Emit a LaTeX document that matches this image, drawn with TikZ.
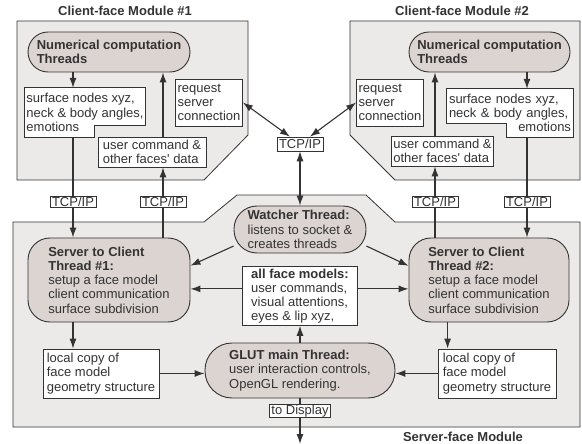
\documentclass[tikz,border=0pt]{standalone}
\usepackage{fontspec}
\setmainfont{Liberation Sans}
\usetikzlibrary{arrows.meta,backgrounds}
\definecolor{modfill}{HTML}{ECEAE9}
\definecolor{thrfill}{HTML}{DCD4D1}
\definecolor{ink}{HTML}{333333}
\tikzset{
  thread/.style={rectangle, rounded corners=20pt, fill=thrfill, draw=ink, line width=0.9pt, align=left, inner sep=2pt},
  databox/.style={rectangle, fill=white, draw=ink, line width=0.8pt, align=left, inner sep=2pt},
  tcp/.style={rectangle, fill=white, draw=ink, line width=0.6pt, inner xsep=2pt, inner ysep=0.5pt},
  module/.style={fill=modfill, draw=ink, line width=0.8pt},
  title/.style={font=\fontsize{13}{14}\selectfont\bfseries},
  wire/.style={line width=1.1pt, draw=ink},
  link/.style={wire, -{Latex[length=10pt,width=7pt]}},
  twolink/.style={wire, {Latex[length=10pt,width=7pt]}-{Latex[length=10pt,width=7pt]}}
}
\begin{document}
\begin{tikzpicture}[x=1pt, y=-1pt, font=\fontsize{13}{14.2}\selectfont, text=ink]
	\useasboundingbox (0,0) rectangle (582,444);
	\begin{scope}[on background layer]
		\draw[module] (17,21) -- (248,21) -- (248,135) -- (204,180) -- (17,180) -- cycle;
		\draw[module] (350,21) -- (580,21) -- (580,180) -- (395,180) -- (350,135) -- cycle;
		\draw[module] (13,222) -- (204,222) -- (237,195) -- (366,195) -- (395,222) -- (580,222) -- (580,427) -- (13,427) -- cycle;
	\end{scope}
	\node[title](mod1) at (125,11){Client-face Module \#1};
	\node[title](mod2) at (462,11){Client-face Module \#2};
	\node[title](mod3) at (463,437){Server-face Module};
	\node[thread, minimum width=162pt, minimum height=40pt](nc1) at (109,52){\textbf{Numerical computation}\\\textbf{Threads}};
	\node[thread, minimum width=161pt, minimum height=40pt](nc2) at (489.5,52){\textbf{Numerical computation}\\\textbf{Threads}};
	\node[align=left, inner sep=2pt, minimum width=118pt, minimum height=49pt](surf1) at (85,112.5){surface nodes xyz,\\neck \& body angles,\\emotions};
	\node[align=left, inner xsep=2pt, inner ysep=2pt, text width=122pt, minimum height=48pt](surf2) at (510,113){surface nodes xyz,\\neck \& body angles,\\\hspace*{\fill}emotions};
	\node[databox, minimum width=66pt, minimum height=47pt](req1) at (209,102.5){request\\server\\connection};
	\node[databox, minimum width=66pt, minimum height=47pt](req2) at (390,102.5){request\\server\\connection};
	\node[databox, minimum width=108pt, minimum height=30pt](cmd1) at (152,152){user command \&\\other faces\textquotesingle{} data};
	\node[databox, minimum width=99pt, minimum height=30pt](cmd2) at (442.5,151){user command \&\\other faces\textquotesingle{} data};
	\node[tcp, minimum height=14pt](tcp0) at (300,144){TCP/IP};
	\node[tcp](tcp1) at (73,202){TCP/IP};
	\node[tcp](tcp2) at (163,202){TCP/IP};
	\node[tcp](tcp3) at (435,202){TCP/IP};
	\node[tcp](tcp4) at (527,202){TCP/IP};
	\node[thread, rounded corners=23pt, minimum width=132pt, minimum height=47pt](watch) at (300,229.5){\textbf{Watcher Thread:}\\listens to socket \&\\creates threads};
	\node[databox, minimum width=115pt, minimum height=58pt](allface) at (300,296){\textbf{all face models:}\\user commands,\\visual attentions,\\eyes \& lip xyz,};
	\node[thread, rounded corners=27pt, minimum width=190pt, minimum height=55pt](glut) at (300,370.5){\textbf{GLUT main Thread:}\\user interaction controls,\\OpenGL rendering.};
	\node[tcp](disp) at (300,411){to Display};
	\node[thread, rounded corners=22pt, minimum width=162pt, minimum height=84pt](srv1) at (109,280){\textbf{Server to Client}\\\textbf{Thread \#1:}\\setup a face model\\client communication\\surface subdivision};
	\node[thread, rounded corners=22pt, minimum width=160pt, minimum height=84pt](srv2) at (489,280){\textbf{Server to Client}\\\textbf{Thread \#2:}\\setup a face model\\client communication\\surface subdivision};
	\node[databox, minimum width=116pt, minimum height=49pt](loc1) at (101,373.5){local copy of\\face model\\geometry structure};
	\node[databox, minimum width=118pt, minimum height=49pt](loc2) at (497,373.5){local copy of\\face model\\geometry structure};
	\coordinate (d2) at ([xshift=10pt]loc2.north west);
	\coordinate (out) at (300,444);
	\begin{scope}[on background layer]
		\draw[fill=white, draw=ink, line width=0.8pt] (surf1.north west) -- (surf1.north east) -- ([yshift=12pt]surf1.south east) -- ([xshift=-51pt,yshift=12pt]surf1.south east) -- ([xshift=-51pt]surf1.south east) -- (surf1.south west) -- cycle;
		\draw[fill=white, draw=ink, line width=0.8pt] (surf2.north west) -- (surf2.north east) -- (surf2.south east) -- ([xshift=-67pt]surf2.south east) -- ([xshift=-67pt,yshift=14pt]surf2.south east) -- ([yshift=14pt]surf2.south west) -- cycle;
	\end{scope}
	\draw[link] (nc1.south -| tcp1) -- (surf1.north -| tcp1);
	\draw[wire] (surf1.south -| tcp1) -- (tcp1);
	\draw[link] (tcp1) -- (srv1.north -| tcp1);
	\draw[wire] (srv1.north -| tcp2) -- (tcp2);
	\draw[link] (tcp2) -- (cmd1.south -| tcp2);
	\draw[link] (cmd1.north -| tcp2) -- (nc1.south -| tcp2);
	\draw[link] (nc2.south -| tcp4) -- (surf2.north -| tcp4);
	\draw[wire] (surf2.south -| tcp4) -- (tcp4);
	\draw[link] (tcp4) -- (srv2.north -| tcp4);
	\draw[wire] (srv2.north -| tcp3) -- (tcp3);
	\draw[link] (tcp3) -- (cmd2.south -| tcp3);
	\draw[link] (cmd2.north -| tcp3) -- (nc2.south -| tcp3);
	\draw[twolink] (req1.east) -- (tcp0);
	\draw[twolink] (req2.west) -- (tcp0);
	\draw[twolink] (tcp0) -- (watch);
	\draw[link] (watch.194) -- (srv1.10);
	\draw[link] (watch.-14) -- (srv2.170);
	\draw[link] (allface.173) -- (allface.173 -| srv1.east);
	\draw[link] (allface.7) -- (allface.7 -| srv2.west);
	\draw[link] (glut) -- (allface);
	\draw[link] (srv1.south -| tcp1) -- (loc1.north -| tcp1);
	\draw[link] (srv2.south -| d2) -- (d2);
	\draw[link] (loc1) -- (loc1 -| glut.west);
	\draw[link] (loc2) -- (loc2 -| glut.east);
	\draw[wire] (glut) -- (disp);
	\draw[link] (disp) -- (out);
\end{tikzpicture}
\end{document}
